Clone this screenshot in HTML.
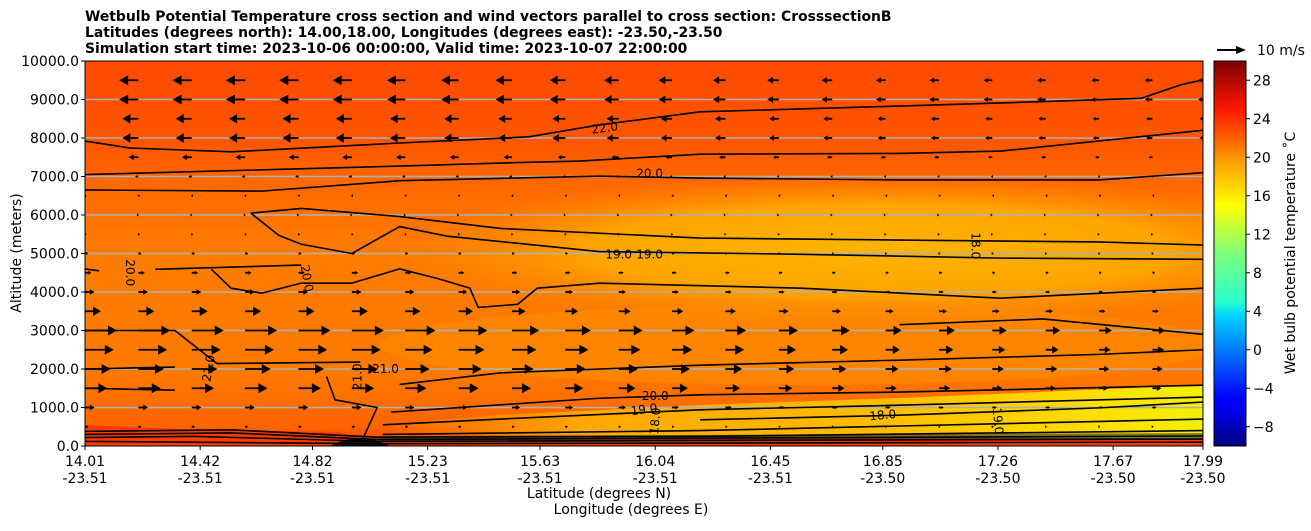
<!DOCTYPE html>
<html><head><meta charset="utf-8"><style>
body{margin:0;background:#fff;font-family:"Liberation Sans",sans-serif}
svg text{font-family:"DejaVu Sans","Liberation Sans",sans-serif}
</style></head><body>
<svg id="chart" width="1311" height="526" xmlns="http://www.w3.org/2000/svg">
<defs>
<linearGradient id="bg" x1="0" y1="0" x2="0" y2="1">
<stop offset="0" stop-color="#ff4a00"/><stop offset="0.2" stop-color="#ff5500"/>
<stop offset="0.33" stop-color="#ff6a00"/><stop offset="0.5" stop-color="#ff7c00"/>
<stop offset="0.8" stop-color="#ff7a00"/><stop offset="0.95" stop-color="#ff6400"/><stop offset="1" stop-color="#ff3a00"/>
</linearGradient>
<radialGradient id="mid" cx="0.5" cy="0.5" r="0.5">
<stop offset="0" stop-color="#ffb400"/><stop offset="0.6" stop-color="#ffa500"/><stop offset="1" stop-color="#ff8a00" stop-opacity="0"/>
</radialGradient>
<linearGradient id="yel" x1="0" y1="0" x2="1" y2="0">
<stop offset="0" stop-color="#ffa000" stop-opacity="0"/><stop offset="0.25" stop-color="#ffa800"/><stop offset="0.6" stop-color="#ffbc00"/><stop offset="0.85" stop-color="#ffdc00"/><stop offset="1" stop-color="#f4f000"/>
</linearGradient>
<linearGradient id="jet" x1="0" y1="1" x2="0" y2="0">
<stop offset="0" stop-color="#00007f"/><stop offset="0.11" stop-color="#0000ff"/><stop offset="0.125" stop-color="#0000ff"/>
<stop offset="0.34" stop-color="#00d4ff"/><stop offset="0.375" stop-color="#29ffce"/><stop offset="0.5" stop-color="#7dff7a"/>
<stop offset="0.625" stop-color="#ffff00"/><stop offset="0.75" stop-color="#ff9400"/><stop offset="0.875" stop-color="#ff1600"/><stop offset="1" stop-color="#7f0000"/>
</linearGradient>
<clipPath id="plotclip"><rect x="85" y="61" width="1118" height="385"/></clipPath>
</defs>
<g clip-path="url(#plotclip)">
<rect x="85" y="61" width="1118" height="385" fill="url(#bg)"/>
<ellipse cx="880" cy="250" rx="480" ry="75" fill="url(#mid)"/>
<ellipse cx="800" cy="345" rx="420" ry="40" fill="#ff9000" opacity="0.5"/>
<path d="M380,425 L500,415 L700,405 L900,398 L1203,385 L1203,438 L380,438 Z" fill="url(#yel)"/>
<rect x="85" y="439" width="1118" height="7" fill="#ff3a00"/>
<path d="M85,425 L200,430 L340,432 L360,446 L85,446 Z" fill="#ff3a00"/>
<path d="M330,446 Q360,430 390,446 Z" fill="#111"/>
<path d="M380,436 L1203,433 L1203,440 L380,441 Z" fill="#333" opacity="0.6"/>
</g>
<g id="grid"></g>
<g id="contours" clip-path="url(#plotclip)"></g>
<g id="arrows" clip-path="url(#plotclip)"></g>
<g id="clabels" font-size="12" fill="#000"></g>
<rect x="85" y="61" width="1118" height="385" fill="none" stroke="#000" stroke-width="1"/>
<g id="axes" font-size="14" fill="#000"></g>
<text x="85" y="21" font-size="13.9" font-weight="bold">Wetbulb Potential Temperature cross section and wind vectors parallel to cross section: CrosssectionB</text>
<text x="85" y="37" font-size="13.9" font-weight="bold">Latitudes (degrees north): 14.00,18.00, Longitudes (degrees east): -23.50,-23.50</text>
<text x="85" y="53" font-size="13.9" font-weight="bold">Simulation start time: 2023-10-06 00:00:00, Valid time: 2023-10-07 22:00:00</text>
<text x="599" y="498" font-size="14" text-anchor="middle">Latitude (degrees N)</text>
<text x="631" y="514" font-size="14" text-anchor="middle">Longitude (degrees E)</text>
<text transform="translate(21,253) rotate(-90)" font-size="14" text-anchor="middle">Altitude (meters)</text>
<g>
<line x1="1217" y1="50" x2="1238" y2="50" stroke="#000" stroke-width="2"/>
<path d="M1246,50 L1236,46 L1236,54 Z" fill="#000"/>
<text x="1257" y="55" font-size="14">10 m/s</text>
</g>
<rect x="1214" y="61" width="32" height="385" fill="url(#jet)" stroke="#000" stroke-width="1"/>
<g id="cbticks" font-size="14"></g>
<text transform="translate(1295,253) rotate(-90)" font-size="14" text-anchor="middle">Wet bulb potential temperature ˚C</text>
</svg>
<script>
const latTicks=[14.01,14.42,14.82,15.23,15.63,16.04,16.45,16.85,17.26,17.67,17.99];
const lonTicks=["-23.51","-23.51","-23.51","-23.51","-23.51","-23.51","-23.51","-23.50","-23.50","-23.50","-23.50"];
const altTicks=[0,1000,2000,3000,4000,5000,6000,7000,8000,9000,10000];
const cbTicks=[-8,-4,0,4,8,12,16,20,24,28];
const windAlts=[500,1000,1500,2000,2500,3000,3500,4000,4500,5000,5500,6000,6500,7000,7500,8000,8500,9000,9500];
const windU=[1,3,7,8,9,10,5,3,2,1,0.5,0.2,-0.3,-1,-3,-5,-5,-6,-6];
const colFactor=[1,1,1,1,1,1,0.95,0.9,0.85,0.8,0.75,0.7,0.65,0.6,0.55,0.5,0.5,0.45,0.45,0.4,0.4,0.4];
const windLats=[14.01,14.20,14.39,14.58,14.77,14.96,15.15,15.34,15.53,15.72,15.91,16.10,16.29,16.48,16.67,16.86,17.05,17.24,17.43,17.62,17.81,18.00];
const contours=[
[[14.01,7920],[14.17,7740],[14.53,7640],[15.13,7870],[15.59,8030],[15.84,8340],[16.20,8680],[16.91,8830],[17.27,8910],[17.77,9030],[17.91,9380],[17.99,9510]],
[[14.01,7050],[15.13,7270],[15.49,7350],[15.77,7400],[16.20,7580],[16.91,7600],[17.27,7660],[17.99,8200]],
[[14.01,6650],[14.64,6620],[15.13,6890],[15.84,7010],[16.20,6960],[16.91,6910],[17.62,6910],[17.99,7100]],
[[14.60,6050],[14.78,6170],[15.13,5960],[15.49,5650],[16.20,5400],[16.91,5350],[17.62,5300],[17.99,5220]],
[[14.60,6050],[14.70,5470],[14.78,5240],[14.96,5000],[15.13,5700],[15.30,5450],[15.84,5050],[16.56,4980],[17.27,4880],[17.99,4850]],
[[14.01,4600],[14.06,4550]],
[[14.26,4590],[14.78,4700]],
[[14.46,4590],[14.53,4100],[14.64,3970],[14.78,4230],[14.96,4230],[15.13,4600],[15.27,4340],[15.38,4100],[15.41,3600],[15.55,3680],[15.62,4100],[15.84,4230],[16.56,4100],[17.27,3840],[17.99,4100]],
[[14.01,3000],[14.33,3000],[14.48,2140],[14.99,2180]],
[[14.01,2000],[14.33,2050]],
[[15.13,1600],[15.49,1900],[16.20,2100],[16.91,2230],[17.62,2380],[17.99,2500]],
[[16.91,3150],[17.42,3300],[17.99,2900]],
[[14.01,1500],[14.33,1450]],
[[14.87,1800],[14.90,1200],[15.05,1000],[15.00,200]],
[[15.10,880],[15.49,1070],[15.84,1240],[16.20,1330],[16.91,1400],[17.99,1580]],
[[15.07,550],[15.49,700],[16.20,940],[16.91,1060],[17.99,1270]],
[[16.20,680],[16.91,800],[17.62,990],[17.99,1140]],
[[15.07,300],[16.20,400],[17.27,580],[17.99,700]],
[[14.01,380],[14.53,420],[15.05,230],[16.20,250],[17.99,400]],
[[14.01,300],[14.53,340],[15.05,170],[17.99,260]],
[[14.01,220],[14.40,250],[15.05,120],[17.99,180]],
[[14.01,120],[15.05,60],[17.99,100]]
];
const clab=[["22.0",15.86,8260,-8],["20.0",16.02,7080,0],["19.0",15.91,4970,0],["19.0",16.02,4970,0],["18.0",17.18,5200,90],["20.0",14.17,4500,90],["20.0",14.80,4350,80],["21.0",14.45,2020,-80],["21.0",14.98,1800,-90],["21.0",15.08,2000,0],["20.0",16.04,1300,0],["19.0",16.00,950,-8],["18.0",16.85,800,-5],["18.0",16.04,650,-85],["19.0",17.26,650,85]];
const NS="http://www.w3.org/2000/svg";
const X0=85,X1=1203,Y0=446,Y1=61;
const xs=v=>X0+(v-14.01)/(17.99-14.01)*(X1-X0);
const ys=v=>Y0-v/10000*(Y0-Y1);
const cs=v=>446-(v+10)/40*385;
function mk(tag,attrs,parent){const e=document.createElementNS(NS,tag);for(const k in attrs)e.setAttribute(k,attrs[k]);parent.appendChild(e);return e;}
const grid=document.getElementById('grid'),axes=document.getElementById('axes');
altTicks.forEach(a=>{
 if(a>0&&a<10000){const g=mk('line',{x1:X0,x2:X1,y1:ys(a),y2:ys(a),stroke:'#b0b0b0','stroke-width':1.5},grid);
 
 }
 const t=mk('line',{x1:X0-4,x2:X0,y1:ys(a),y2:ys(a),stroke:'#000'},axes);
 
 
 const l=mk('text',{x:X0-6,y:ys(a)+5,'text-anchor':'end'},axes);l.textContent=a.toFixed(1);
 
 
});
latTicks.forEach((v,i)=>{
 const t=mk('line',{x1:xs(v),x2:xs(v),y1:Y0,y2:Y0+4,stroke:'#000'},axes);
 
 
 const l=mk('text',{x:xs(v),y:466,'text-anchor':'middle'},axes);l.textContent=v.toFixed(2);
 
 
 const l2=mk('text',{x:xs(v),y:483,'text-anchor':'middle'},axes);l2.textContent=lonTicks[i];
 
 
});
const cb=document.getElementById('cbticks');
cbTicks.forEach(v=>{
 const t=mk('line',{x1:1246,x2:1250,y1:cs(v),y2:cs(v),stroke:'#000'},cb);
 
 
 const l=mk('text',{x:1253,y:cs(v)+5},cb);l.textContent=v<0?'\u2212'+Math.abs(v):String(v);
 
 
});
const cg=document.getElementById('contours');
contours.forEach(c=>{
 const p=mk('polyline',{points:c.map(q=>xs(q[0])+','+ys(q[1])).join(' '),fill:'none',stroke:'#000','stroke-width':1.6,'stroke-linejoin':'round'},cg);
 
 
});
const lg=document.getElementById('clabels');
clab.forEach(c=>{
 const x=xs(c[1]),y=ys(c[2]);
 const t=mk('text',{x:x,y:y+4,'text-anchor':'middle',transform:`rotate(${c[3]},${x},${y})`},lg);t.textContent=c[0];
 
 
});
const ag=document.getElementById('arrows');
const SC=3.2;
windAlts.forEach((a,r)=>{
 windLats.forEach((lat,c)=>{
  const u=windU[r]*colFactor[c];const L=u*SC;const x=xs(lat),y=ys(a);
  const d=Math.sign(u)||1;const al=Math.abs(L);
  const hl=Math.min(9,Math.max(2,al*0.5)),hw=Math.min(5,Math.max(1.5,al*0.3));
  const g=mk('g',{},ag);
  
  
  if(al>hl) mk('line',{x1:x,y1:y,x2:x+L-d*hl,y2:y,stroke:'#000','stroke-width':1.8},g);
  mk('path',{d:`M${x+L},${y} L${x+L-d*hl},${y-hw} L${x+L-d*hl},${y+hw} Z`,fill:'#000'},g);
 });
});
</script>
</body></html>
